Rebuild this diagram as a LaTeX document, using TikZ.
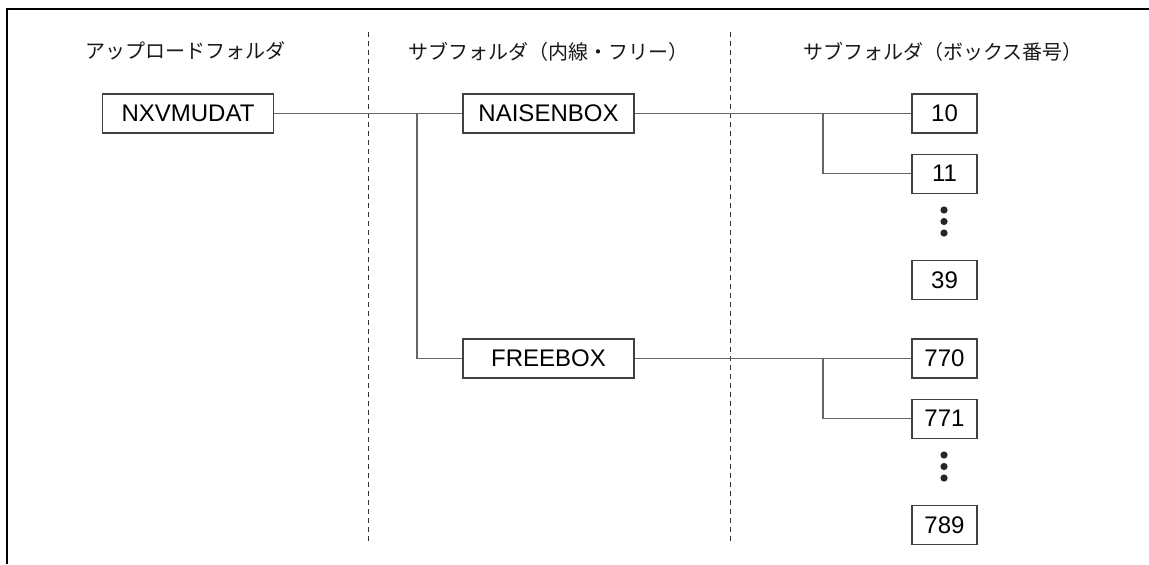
\documentclass[tikz,border=0pt]{standalone}
\usepackage{fontspec}
\setmainfont{Liberation Sans}
\newfontfamily\jpfont{Noto Sans CJK JP}
\usetikzlibrary{positioning}

\begin{document}
\begin{tikzpicture}[x=0.5pt, y=-0.5pt, node distance=10pt,
    every node/.style={font=\fontsize{12}{14}\selectfont}]
    \tikzset{
        folder/.style={draw=black!75, line width=0.6pt, minimum height=19.5pt,
            minimum width=85.5pt, inner sep=0pt},
        boxno/.style={folder, minimum width=32.5pt},
        head/.style={font=\jpfont\fontsize{10}{12}\selectfont, text=black!90},
        link/.style={draw=black!60, line width=0.6pt},
        sep/.style={draw=black!80, line width=0.5pt, dash pattern=on 2.5pt off 2pt}
    }
    \useasboundingbox (0,0) rectangle (1149,564);

    % frame and column separators
    \draw [line width=0.8pt] (7,564) -- (7,9) -- (1149,9);
    \draw [sep] (368,32) -- (368,541);
    \draw [sep] (730,32) -- (730,541);

    % column headings
    \node (h1) [head] at (185,51) {アップロードフォルダ};
    \node (h2) [head] at (548,52) {サブフォルダ（内線・フリー）};
    \node (h3) [head] at (943,52) {サブフォルダ（ボックス番号）};

    % folders
    \node (root) [folder] at (188,113.5) {NXVMUDAT};
    \node (naisen) [folder] at (548.5,113.5) {NAISENBOX};
    \node (free) [folder] at (548.5,358.5) {FREEBOX};

    \node (b10) [boxno] at (944.5,113.5) {10};
    \node (b11) [boxno, below=of b10] {11};
    \node (b39) [boxno, below=33pt of b11] {39};
    \node (b770) [boxno] at (944.5,358.5) {770};
    \node (b771) [boxno, below=of b770] {771};
    \node (b789) [boxno, below=33pt of b771] {789};

    \foreach \y in {210,221.5,233,455,466.5,478}
        \fill [black!85] (944,\y) circle (1.8pt);

    % connectors
    \coordinate (j1) at (417,113.5);
    \coordinate (j2) at (823,113.5);
    \coordinate (j3) at (823,358.5);
    \draw [link] (root) -- (naisen);
    \draw [link] (j1) |- (free);
    \draw [link] (naisen) -- (b10);
    \draw [link] (j2) |- (b11);
    \draw [link] (free) -- (b770);
    \draw [link] (j3) |- (b771);
\end{tikzpicture}
\end{document}
